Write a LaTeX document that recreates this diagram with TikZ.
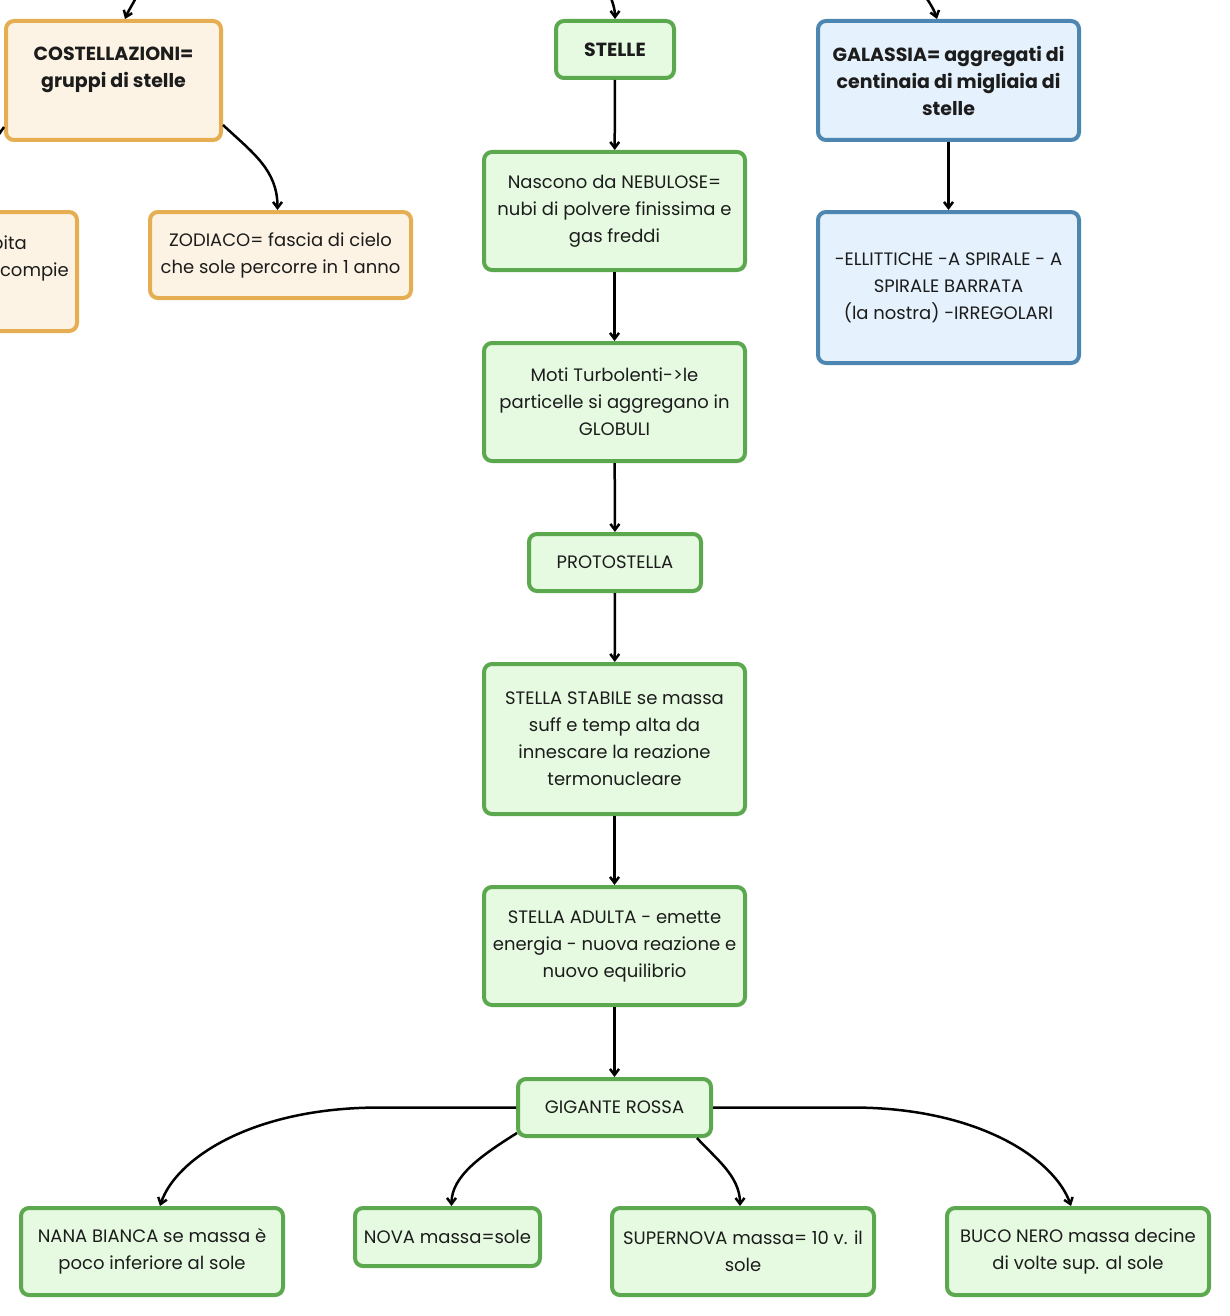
\documentclass[tikz,border=0pt]{standalone}
\usepackage{fontspec}
\setmainfont{Poppins}
\usetikzlibrary{arrows.meta,calc}
\definecolor{gstroke}{HTML}{5BA84E}
\definecolor{gfill}{HTML}{E6FAE1}
\definecolor{ostroke}{HTML}{E6AE52}
\definecolor{ofill}{HTML}{FDF3E4}
\definecolor{bstroke}{HTML}{4E86B2}
\definecolor{bfill}{HTML}{E5F1FC}
\definecolor{txt}{HTML}{1C1C1C}
\begin{document}
\begin{tikzpicture}[x=1pt,y=-1pt,
  box/.style={draw, line width=4pt, rounded corners=8pt, align=center, inner sep=0pt,
    text=txt, font=\fontsize{18}{27}\selectfont},
  gbox/.style={box, draw=gstroke, fill=gfill},
  obox/.style={box, draw=ostroke, fill=ofill},
  bbox/.style={box, draw=bstroke, fill=bfill},
  boldtxt/.style={font=\fontsize{19}{27}\selectfont\bfseries},
  conn/.style={draw=black, line width=2.5pt, -{Straight Barb[length=6pt,width=9pt]}},
  plainconn/.style={draw=black, line width=2.5pt}]
\useasboundingbox (0,0) rectangle (1230,1316);
\clip (0,0) rectangle (1230,1316);
\fill[white] (0,0) rectangle (1230,1316);

% orange column
\node[obox, boldtxt, minimum width=215, minimum height=119] (cost) at (113.5,80.5)
  {COSTELLAZIONI=\\gruppi di stelle\\\mbox{}};
\node[obox, minimum width=261, minimum height=86] (zod) at (280.5,255)
  {ZODIACO= fascia di cielo\\che sole percorre in 1 anno};
\node[obox, minimum width=255, minimum height=119] (anno) at (-50.5,271.5) {};
\node[text=txt, font=\fontsize{18}{27}\selectfont, anchor=base east, inner sep=0pt] (annoa) at (27,249) {orbita};
\node[text=txt, font=\fontsize{18}{27}\selectfont, anchor=base east, inner sep=0pt] (annob) at (69,276) {compie};

% green column
\node[gbox, boldtxt, minimum width=118, minimum height=57] (stelle) at (615,49.5) {STELLE};
\node[gbox, minimum width=261, minimum height=118] (neb) at (614.5,211)
  {Nascono da NEBULOSE=\\nubi di polvere finissima e\\gas freddi};
\node[gbox, minimum width=261, minimum height=118] (moti) at (614.5,402)
  {Moti Turbolenti->le\\particelle si aggregano in\\GLOBULI};
\node[gbox, minimum width=172, minimum height=57] (proto) at (615,562.5) {PROTOSTELLA};
\node[gbox, minimum width=261, minimum height=150] (stab) at (614.5,739)
  {STELLA STABILE se massa\\suff e temp alta da\\innescare la reazione\\termonucleare};
\node[gbox, minimum width=261, minimum height=118] (adult) at (614.5,946)
  {STELLA ADULTA - emette\\energia - nuova reazione e\\nuovo equilibrio};
\node[gbox, minimum width=193, minimum height=57] (gig) at (614.5,1107.5) {GIGANTE ROSSA};
\node[gbox, minimum width=262, minimum height=87] (nana) at (152,1251.5)
  {NANA BIANCA se massa è\\poco inferiore al sole};
\node[gbox, minimum width=185, minimum height=58] (nova) at (447.5,1237) {NOVA massa=sole};
\node[gbox, minimum width=262, minimum height=87] (super) at (743,1251.5)
  {SUPERNOVA massa= 10 v. il\\sole};
\node[gbox, minimum width=262, minimum height=87] (buco) at (1078,1251.5)
  {BUCO NERO massa decine\\di volte sup. al sole};

% blue column
\node[bbox, boldtxt, minimum width=261, minimum height=119] (gal) at (948.5,80.5)
  {GALASSIA= aggregati di\\centinaia di migliaia di\\stelle};
\node[bbox, minimum width=261, minimum height=151] (ell) at (948.5,287.5)
  {-ELLITTICHE -A SPIRALE - A\\SPIRALE BARRATA\\(la nostra) -IRREGOLARI};

% incoming connectors from above
\coordinate (tc) at (140,-12);
\coordinate (ts) at (606,-12);
\coordinate (tg) at (918,-12);
\coordinate (lo) at (-12,150);
\draw[conn] (tc) .. controls +(-4,12) and +(4,-10) .. ($(cost.north)+(11.5,0)$);
\draw[conn] (ts) .. controls +(6,10) and +(0,-10) .. (stelle.north);
\draw[conn] (tg) .. controls +(8,8) and +(-3,-10) .. ($(gal.north)+(-11.5,0)$);
\draw[plainconn] ($(cost.south west)+(0,-15)$) -- (lo);

% connectors
\draw[conn] ($(cost.south east)+(0,-17)$) .. controls +(30,28) and +(0,-40) .. ($(zod.north)+(-3,0)$);
\draw[conn] (stelle) -- (neb);
\draw[conn] (neb) -- (moti);
\draw[conn] (moti) -- (proto);
\draw[conn] (proto) -- (stab);
\draw[conn] (stab) -- (adult);
\draw[conn] (adult) -- (gig);
\draw[conn] (gal) -- (ell);
\draw[conn] (gig.west) -- (380,1107.5) .. controls (250,1107.5) and (175,1160) .. ($(nana.north)+(8,0)$);
\draw[conn] ($(gig.south west)+(1,-5)$) .. controls +(-35,22) and +(0,-30) .. ($(nova.north)+(4,0)$);
\draw[conn] ($(gig.south east)+(-16,0)$) .. controls +(18,20) and +(0,-30) .. ($(super.north)+(-3,0)$);
\draw[conn] (gig.east) -- (852,1107.5) .. controls (980,1107.5) and (1055,1160) .. ($(buco.north)+(-7,0)$);
\end{tikzpicture}
\end{document}
